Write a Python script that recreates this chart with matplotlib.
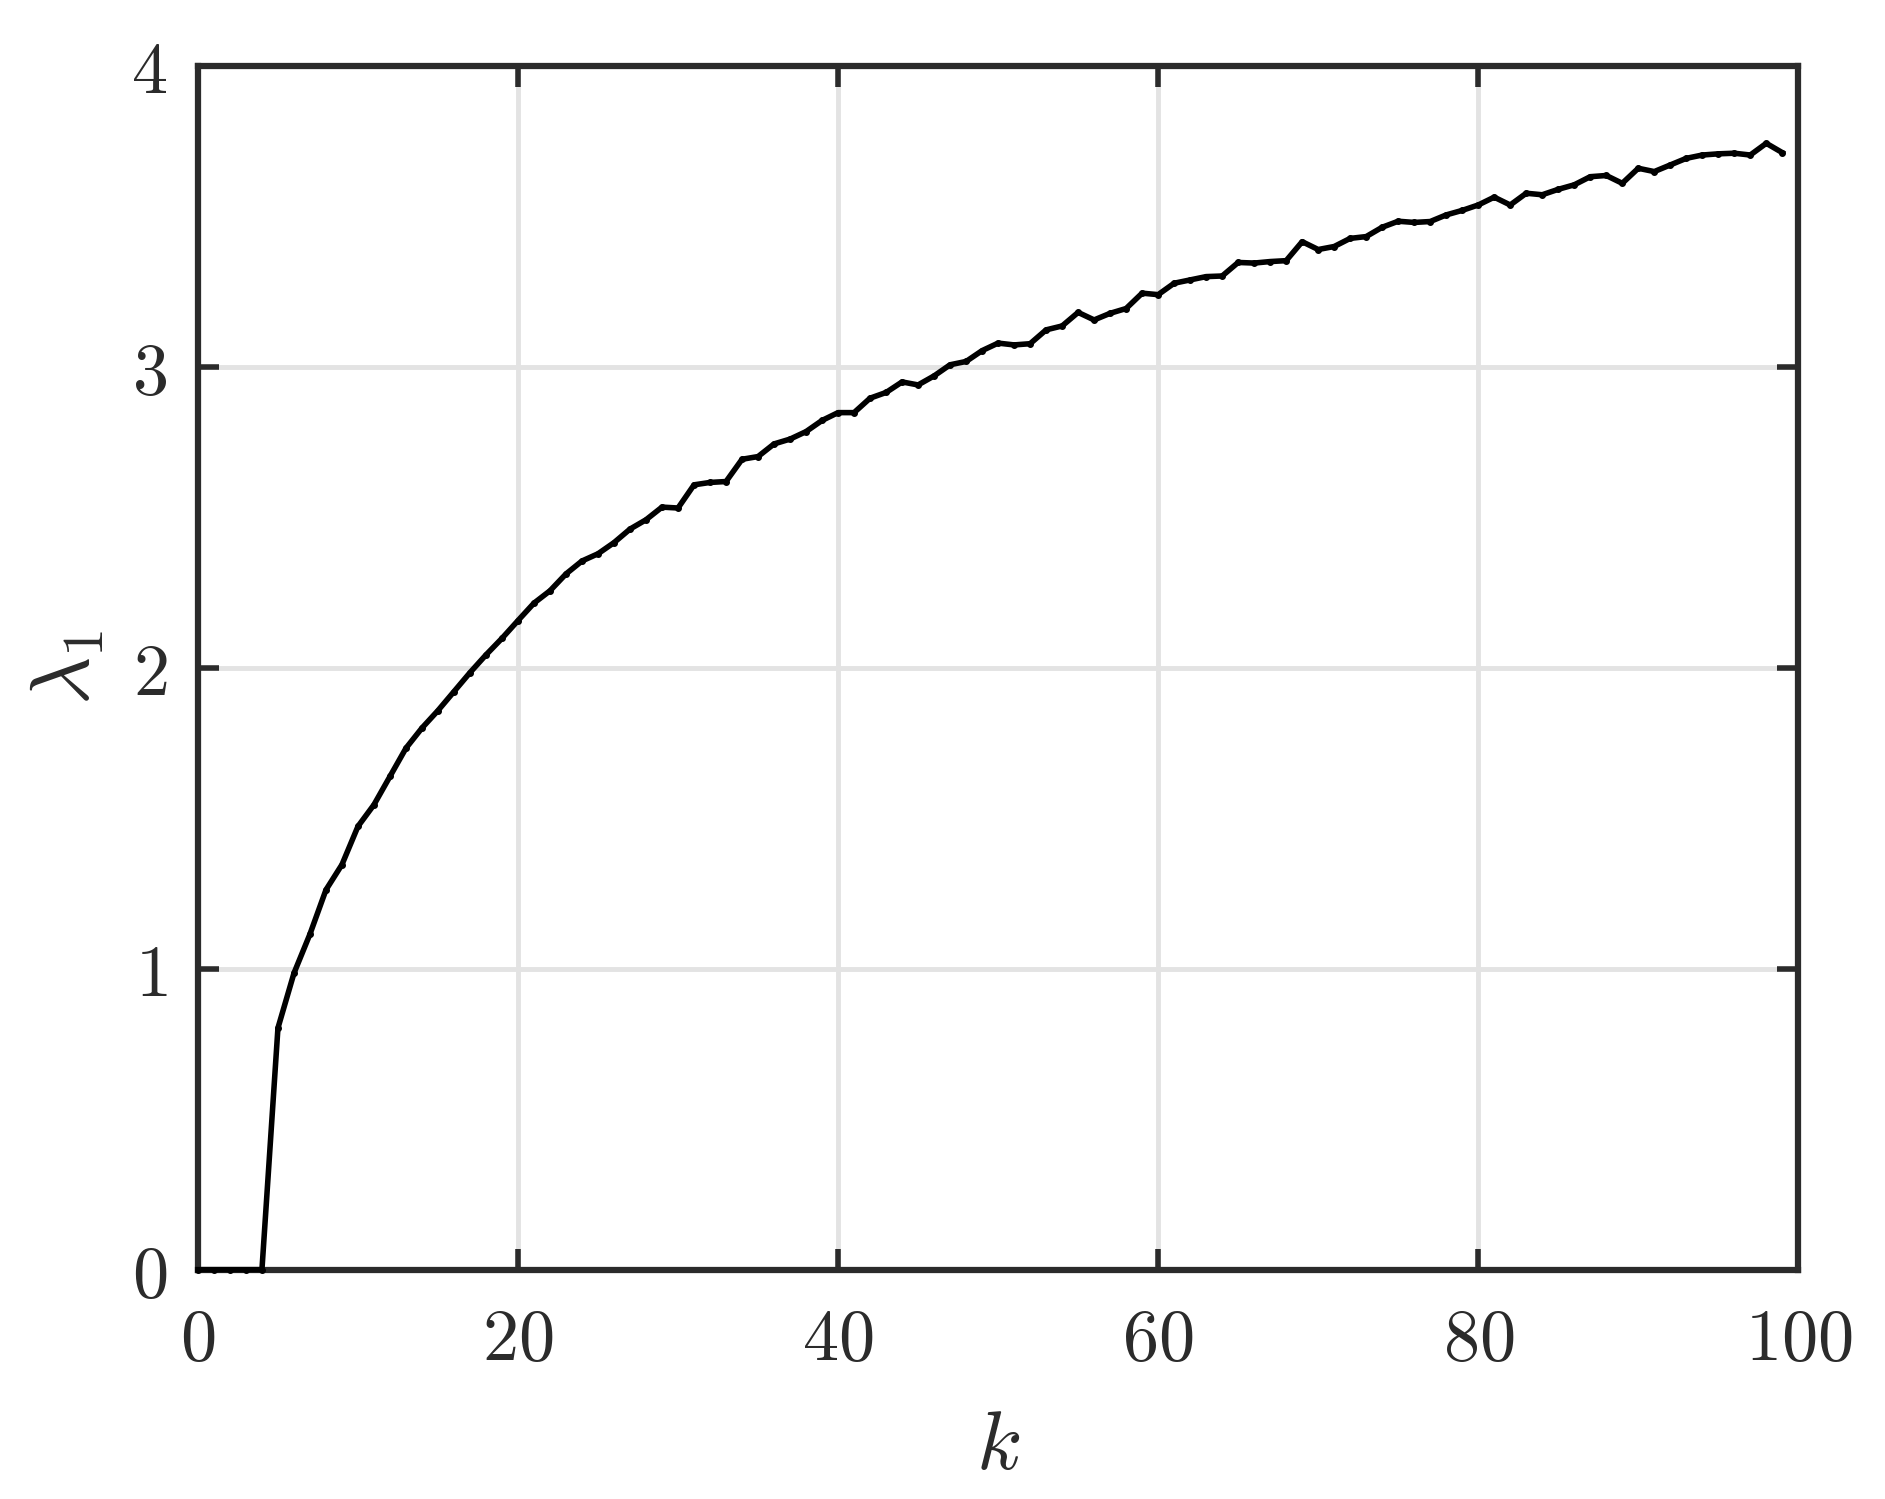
import matplotlib
matplotlib.use("Agg")
import matplotlib.pyplot as plt
from matplotlib.ticker import FuncFormatter

plt.rcParams['mathtext.fontset'] = 'cm'

k = list(range(0, 100))
lambda1 = [
    0.0, 0.0, 0.0, 0.0, 0.0, 0.803, 0.985, 1.115, 1.262, 1.346,
    1.473, 1.545, 1.639, 1.733, 1.800, 1.858, 1.921, 1.984, 2.043, 2.098,
    2.157, 2.215, 2.256, 2.312, 2.355, 2.379, 2.416, 2.461, 2.492, 2.534,
    2.531, 2.608, 2.616, 2.619, 2.693, 2.702, 2.744, 2.760, 2.785, 2.822,
    2.848, 2.848, 2.896, 2.915, 2.950, 2.940, 2.970, 3.007, 3.018, 3.054,
    3.079, 3.073, 3.077, 3.123, 3.136, 3.181, 3.156, 3.178, 3.194, 3.245,
    3.240, 3.278, 3.289, 3.300, 3.302, 3.347, 3.345, 3.350, 3.353, 3.416,
    3.390, 3.400, 3.427, 3.433, 3.464, 3.484, 3.480, 3.483, 3.505, 3.520,
    3.538, 3.564, 3.538, 3.577, 3.572, 3.590, 3.605, 3.632, 3.636, 3.610,
    3.660, 3.649, 3.671, 3.693, 3.704, 3.708, 3.710, 3.704, 3.743, 3.712,
]

xticks = [0, 20, 40, 60, 80, 100]
yticks = [0, 1, 2, 3, 4]

fig = plt.figure(figsize=(18.85, 14.99), dpi=100)
ax = fig.add_axes([0.105, 0.153, 0.849, 0.803])

ax.plot(k, lambda1, color='black', linewidth=4.0, marker='.', markersize=8,
        zorder=5, clip_on=False)

ax.set_xlim(0, 100)
ax.set_ylim(0, 4)
ax.set_xticks(xticks)
ax.set_yticks(yticks)
fmt = FuncFormatter(lambda v, p: r'$%d$' % v)
ax.xaxis.set_major_formatter(fmt)
ax.yaxis.set_major_formatter(fmt)

ax.grid(True, color='#e3e3e3', linewidth=3.5, zorder=0)
ax.set_axisbelow(True)

for s in ax.spines.values():
    s.set_color('#2b2b2b')
    s.set_linewidth(4.5)
    s.set_zorder(3)

ax.tick_params(axis='both', which='major', direction='in', length=15, width=4,
               color='#2b2b2b', labelsize=52, top=True, right=True,
               labelcolor='#2b2b2b')
ax.tick_params(axis='x', pad=26)
ax.tick_params(axis='y', pad=22)

ax.set_xlabel(r'$k$', fontsize=60, color='#2b2b2b', labelpad=22)
ax.set_ylabel(r'$\lambda_1$', fontsize=60, color='#2b2b2b', labelpad=18)

fig.savefig('out.png', dpi=100, facecolor='white')
